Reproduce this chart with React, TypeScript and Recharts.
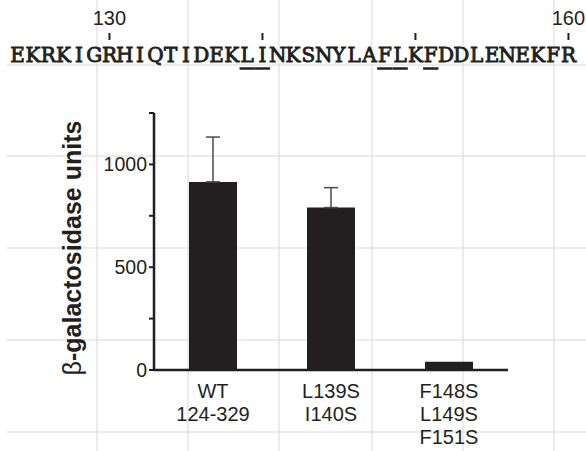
import { Bar, BarChart, ErrorBar, Label, XAxis, YAxis } from "recharts";

// bar data
const categories = ["WT|124-329", "L139S|I140S", "F148S|L149S|F151S"];
const activity = [915, 790, 40];
const errorUp = [218, 97, 0];
const yTicks = [0, 250, 500, 750, 1000, 1250];
const yLabels = [0, 500, 1000];

// sequence header
const sequence = "EKRKIGRHIQTIDEKLINKSNYLAFLKFDDLENEKFR";
const firstResidue = 124;
const residueTicks = [130, 140, 150, 160];
const residueLabels = [130, 160];
const mutated = [139, 140, 148, 149, 151];

// background scan grid
const gridX = [97, 188, 279, 372, 463, 554];
const gridY = [65, 156, 248, 340, 432];

const INK = "#231f20";
const SANS = "'Liberation Sans', Arial, sans-serif";

const data = categories.map((c, i) => ({
  name: c,
  value: activity[i],
  err: errorUp[i] > 0 ? [0, errorUp[i]] : null,
}));

const CategoryTick = ({ x, y, payload }: any) => {
  const lines = String(payload.value).split("|");
  return (
    <text x={x} y={y} textAnchor="middle" fill={INK} fontSize={20} fontFamily={SANS}>
      {lines.map((l, i) => (
        <tspan key={l} x={x} y={y + 28 + i * 23}>
          {l}
        </tspan>
      ))}
    </text>
  );
};

const YTitle = ({ viewBox }: any) => {
  const cx = viewBox.x + 81;
  const cy = 248;
  return (
    <text
      x={cx}
      y={cy}
      textAnchor="middle"
      transform={`rotate(-90, ${cx}, ${cy})`}
      fill={INK}
      fontSize={25}
      fontFamily={SANS}
      fontWeight="bold"
    >
      <tspan fontWeight="normal">β</tspan>-galactosidase units
    </text>
  );
};

function SequenceHeader() {
  const x0 = 10;
  const cw = 15.3;
  const mid = (r: number) => x0 + (r - firstResidue + 0.5) * cw;
  return (
    <svg width={586} height={80} style={{ position: "absolute", left: 0, top: 0 }}>
      {sequence.split("").map((ch, i) => (
        <text
          key={i}
          x={x0 + (i + 0.5) * cw}
          y={62}
          textAnchor="middle"
          fontFamily="'DejaVu Serif', 'Liberation Serif', serif"
          fontSize={20}
          fill={INK}
          stroke={INK}
          strokeWidth={0.9}
        >
          {ch}
        </text>
      ))}
      {residueTicks.map((r) => (
        <line key={r} x1={mid(r)} x2={mid(r)} y1={33} y2={40} stroke={INK} strokeWidth={2} />
      ))}
      {residueLabels.map((r) => (
        <text key={r} x={mid(r)} y={25} textAnchor="middle" fontFamily={SANS} fontSize={20} fill={INK}>
          {r}
        </text>
      ))}
      {mutated.map((r) => (
        <line
          key={r}
          x1={mid(r) - cw / 2}
          x2={mid(r) + cw / 2}
          y1={68.5}
          y2={68.5}
          stroke={INK}
          strokeWidth={2.5}
        />
      ))}
    </svg>
  );
}

export default function App() {
  return (
    <div style={{ position: "absolute", left: 0, top: 0, width: 586, height: 451, background: "#fff" }}>
      <svg width={586} height={451} style={{ position: "absolute", left: 0, top: 0 }}>
        {gridX.map((x) => (
          <line key={x} x1={x} x2={x} y1={0} y2={451} stroke="#d9d9d9" strokeWidth={1} />
        ))}
        {gridY.map((y) => (
          <line key={y} x1={7} x2={586} y1={y} y2={y} stroke="#d9d9d9" strokeWidth={1} />
        ))}
      </svg>
      <div style={{ position: "absolute", left: 0, top: 0 }}>
        <BarChart width={586} height={451} data={data} margin={{ top: 113, right: 78, bottom: 0, left: 0 }}>
          <XAxis
            dataKey="name"
            height={81}
            axisLine={{ stroke: INK, strokeWidth: 2.5 }}
            tickLine={false}
            tickSize={0}
            tickMargin={0}
            interval={0}
            tick={<CategoryTick />}
          />
          <YAxis
            width={154}
            domain={[0, 1250]}
            ticks={yTicks}
            interval={0}
            axisLine={{ stroke: INK, strokeWidth: 2.5 }}
            tickLine={{ stroke: INK, strokeWidth: 2 }}
            tickSize={5}
            tickMargin={2}
            tick={{ fill: INK, fontSize: 19.5, fontFamily: SANS }}
            tickFormatter={(v: number) => (yLabels.includes(v) ? String(v) : "")}
          >
            <Label content={<YTitle />} />
          </YAxis>
          <Bar dataKey="value" fill={INK} barSize={48} isAnimationActive={false}>
            <ErrorBar dataKey="err" width={7} stroke="#4a4a4a" strokeWidth={1.5} direction="y" />
          </Bar>
        </BarChart>
      </div>
      <SequenceHeader />
    </div>
  );
}
